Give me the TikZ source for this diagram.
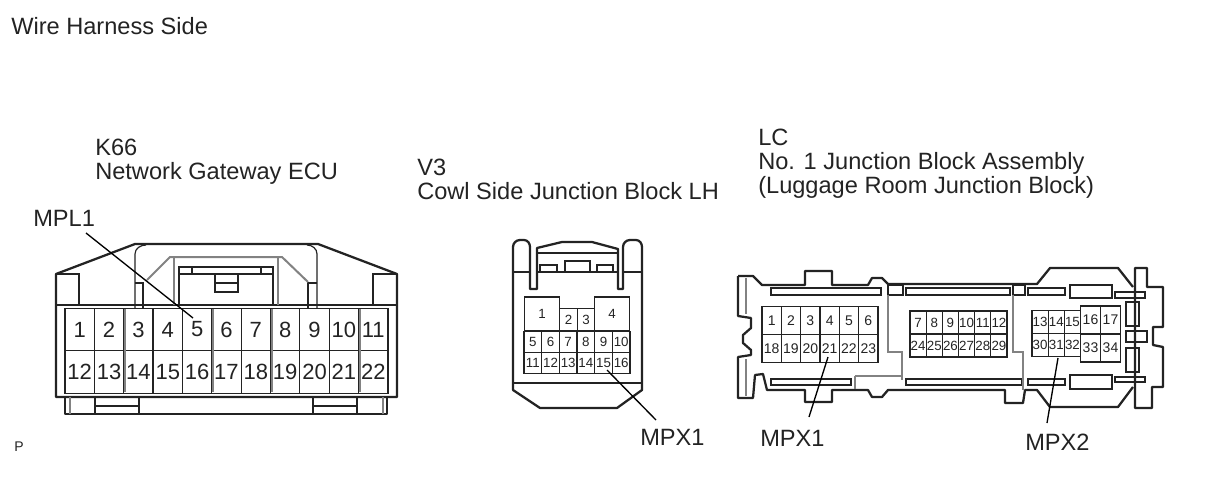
\documentclass[tikz,border=0pt]{standalone}
\usepackage{fontspec}
\setmainfont{Liberation Sans}
\usetikzlibrary{positioning}
\definecolor{myink}{RGB}{35, 35, 35}
\definecolor{mygrey}{RGB}{130, 130, 130}
\newcommand{\fs}[1]{\fontsize{#1}{18}\selectfont}
\begin{document}
\begin{tikzpicture}[
    x=0.75pt, y=-0.75pt,
    caption/.style={anchor=base west, inner sep=0pt, text=myink, font=\fs{17.7}, align=left},
    outline/.style={draw=myink, line width=1.7pt, line join=round},
    part/.style={draw=myink, line width=0.9pt},
    shade/.style={draw=mygrey, line width=1.5pt},
    leader/.style={draw=black, line width=1pt},
    pin/.style={rectangle, draw=myink, line width=0.9pt, inner sep=0pt, outer sep=0pt, text=myink},
    kpin/.style={pin, minimum width=22pt, minimum height=32pt, font=\fs{16.5}},
    vpin/.style={pin, minimum width=13.25pt, minimum height=15.75pt, font=\fs{10}},
    lpin/.style={pin, minimum width=14.5pt, minimum height=21pt, font=\fs{10.5}},
    mpin/.style={pin, minimum width=12.1pt, minimum height=17.25pt, font=\fs{10}}
]
\useasboundingbox (0,0) rectangle (1208,482);

% Captions
\node[caption] (side) at (11,34) {Wire Harness Side};
\node[caption, font=\fs{10.5}] (pmark) at (14,451) {P};
\node[caption, anchor=north west] (k66) at (95,139) {K66\\Network Gateway ECU};
\node[caption, anchor=north west] (v3) at (417,159) {V3\\Cowl Side Junction Block LH};
\node[caption, anchor=north west] (lc) at (758,129) {LC\\No. 1 Junction Block Assembly\\(Luggage Room Junction Block)};

% K66 body
\draw[outline] (56,274) -- (135,244) -- (318,244) -- (397,274) -- (397,397) -- (56,397) -- cycle;
\draw[outline] (65,397) -- (65,414) -- (387,414) -- (387,397);
\draw[part] (56,305) -- (397,305);
\draw[part] (56,274) -- (79,274) -- (79,305) (373,305) -- (373,274) -- (397,274);
\draw[part] (135,308) -- (135,254) to[out=90,in=180] (146,245) (307,245) to[out=0,in=90] (317,254) -- (317,308);
\draw[part] (143,308) -- (143,283) -- (135,283) (308,308) -- (308,283) -- (317,283);
\draw[shade] (147,280) -- (170,257) -- (282,257) -- (308,282);
\draw[shade] (174,257) -- (174,305) (278,257) -- (278,305);
\draw[part] (179,305) -- (179,267) -- (273,267) -- (273,305) (179,274) -- (273,274);
\draw[part] (192,267) -- (192,274) (261,267) -- (261,274);
\draw[part] (215,274) -- (215,292) -- (238,292) -- (238,274) (215,283) -- (238,283);
\draw[part] (95,397) -- (95,414) (139,397) -- (139,414) (95,406) -- (139,406);
\draw[part] (313,397) -- (313,414) (357,397) -- (357,414) (313,406) -- (357,406);
\draw[shade] (70,397) -- (70,414) (383,397) -- (383,414);

% K66 pins
\foreach \n in {1,...,11}
    \node[kpin] (k\n) at ({65+29.36*(\n-0.5)},329.5) {\n};
\foreach \n in {12,...,22}
    \node[kpin] (k\n) at ({65+29.36*(\n-11.5)},372) {\n};
\foreach \c in {2,5,7,10}
    \draw[shade] ({65+29.36*\c+1},309) -- ({65+29.36*\c+1},392);

% V3 body
\draw[outline] (530,289) -- (530,247) to[out=90,in=0] (524,240) -- (520,240) to[out=180,in=90] (513,247) -- (513,390) -- (540,408) -- (617,408) -- (642,390) -- (642,247) to[out=90,in=0] (636,240) -- (630,240) to[out=180,in=90] (623,247) -- (623,289) -- (618,289) -- (618,249) -- (592,242) -- (562,242) -- (537,248) -- (537,289) -- cycle;
\draw[part] (513,383) -- (642,383);
\draw[part] (537,253) -- (618,253);
\draw[part] (513,272) -- (530,272) (537,272) -- (618,272) (623,272) -- (642,272);
\draw[part] (540,272) -- (540,265) -- (557,265) -- (557,272) (565,272) -- (565,261) -- (590,261) -- (590,272) (597,272) -- (597,265) -- (613,265) -- (613,272);

% V3 pins
\node[pin, minimum width=26.5pt, minimum height=25.5pt, font=\fs{10}] (v1) at (542,314) {1};
\node[pin, minimum width=13.25pt, minimum height=17pt, font=\fs{10}] (v2) at (568.5,319.5) {2};
\node[pin, minimum width=13.25pt, minimum height=17pt, font=\fs{10}] (v3a) at (586,319.5) {3};
\node[pin, minimum width=26.5pt, minimum height=25.5pt, font=\fs{10}] (v4) at (612,314) {4};
\foreach \n in {5,...,10}
    \node[vpin] (v\n) at ({524+17.67*(\n-4.5)},342) {\n};
\foreach \n in {11,...,16}
    \node[vpin] (v\n) at ({524+17.67*(\n-10.5)},363) {\n};

% LC body
\draw[outline] (738,276) -- (753,276) -- (762,285) -- (805,285) -- (805,271) -- (832,271) -- (832,285) -- (868,285) -- (872,278) -- (882,278) -- (888,284) -- (1037,284) -- (1050,268) -- (1118,268) -- (1133,287);
\draw[outline] (738,276) -- (738,316) -- (751,318) -- (751,328) -- (743,335) -- (743,343) -- (751,350) -- (751,355) -- (738,357) -- (738,398) -- (753,398) -- (755,375) -- (763,374) -- (767,390) -- (805,390) -- (805,402) -- (832,402) -- (832,390) -- (868,390) -- (872,397) -- (882,397) -- (888,390) -- (1005,390) -- (1005,403) -- (1023,403) -- (1025,390) -- (1037,390) -- (1050,407) -- (1118,407) -- (1133,387);
\draw[outline] (1135,268) -- (1147,268) -- (1147,287) -- (1163,287) -- (1163,327) -- (1153,327) -- (1153,345) -- (1163,347) -- (1163,387) -- (1152,387) -- (1152,408) -- (1135,408) -- cycle;
\draw[shade] (746,278) -- (746,314) (746,359) -- (746,396);
\foreach \x/\w in {771/881, 906/1010, 1028/1065}
    \draw[part] (\x,288) rectangle (\w,295);
\foreach \x/\w in {771/851, 906/1022, 1028/1065}
    \draw[part] (\x,379) rectangle (\w,385);
\draw[part] (888,285) rectangle (903,295) (1013,285) rectangle (1025,295);
\draw[part] (1070,285) rectangle (1112,298) (1070,375) rectangle (1112,389);
\draw[part] (1115,292) rectangle (1145,298) (1115,377) rectangle (1145,382);
\draw[part] (1126,302) rectangle (1139,326) (1126,331) rectangle (1147,342) (1126,348) rectangle (1139,372);
\draw[shade] (888,295) -- (888,352) -- (902,352) -- (902,380);
\draw[shade] (1013,295) -- (1013,352) -- (1023,352) -- (1023,390);
\draw[shade] (855,376) -- (902,376) (855,376) -- (855,389);

% LC pins
\foreach \n [count=\i] in {1,...,6}
    \node[lpin] (la\n) at ({762+19.33*(\i-0.5)},320.5) {\n};
\foreach \n [count=\i] in {18,...,23}
    \node[lpin] (la\n) at ({762+19.33*(\i-0.5)},348.5) {\n};
\foreach \n [count=\i] in {7,...,12}
    \node[mpin] (la\n) at ({910+16.17*(\i-0.5)},322.5) {\n};
\foreach \n [count=\i] in {24,...,29}
    \node[mpin] (la\n) at ({910+16.17*(\i-0.5)},345.5) {\n};
\foreach \n [count=\i] in {13,14,15}
    \node[mpin] (la\n) at ({1032+16.17*(\i-0.5)},322) {\n};
\foreach \n [count=\i] in {30,31,32}
    \node[mpin] (la\n) at ({1032+16.17*(\i-0.5)},345) {\n};
\foreach \n [count=\i] in {16,17}
    \node[lpin, minimum width=15pt] (la\n) at ({1080.5+20*(\i-0.5)},320) {\n};
\foreach \n [count=\i] in {33,34}
    \node[lpin, minimum width=15pt] (la\n) at ({1080.5+20*(\i-0.5)},348) {\n};

% Leaders
\node[caption] (mpl) at (33,226) {MPL1};
\node[caption] (mpxa) at (640,445) {MPX1};
\node[caption] (mpxb) at (760,446) {MPX1};
\node[caption] (mpxc) at (1025,450) {MPX2};
\coordinate (mplstart) at (86,233);
\coordinate (mplend) at (193,318);
\coordinate (mpxastart) at (656,420);
\coordinate (mpxaend) at (607,370);
\coordinate (mpxbstart) at (809,417);
\coordinate (mpxbend) at (828,357);
\coordinate (mpxcstart) at (1047,423);
\coordinate (mpxcend) at (1058,358);
\draw[leader] (mplstart) -- (mplend);
\draw[leader] (mpxastart) -- (mpxaend);
\draw[leader] (mpxbstart) -- (mpxbend);
\draw[leader] (mpxcstart) -- (mpxcend);

\end{tikzpicture}
\end{document}
